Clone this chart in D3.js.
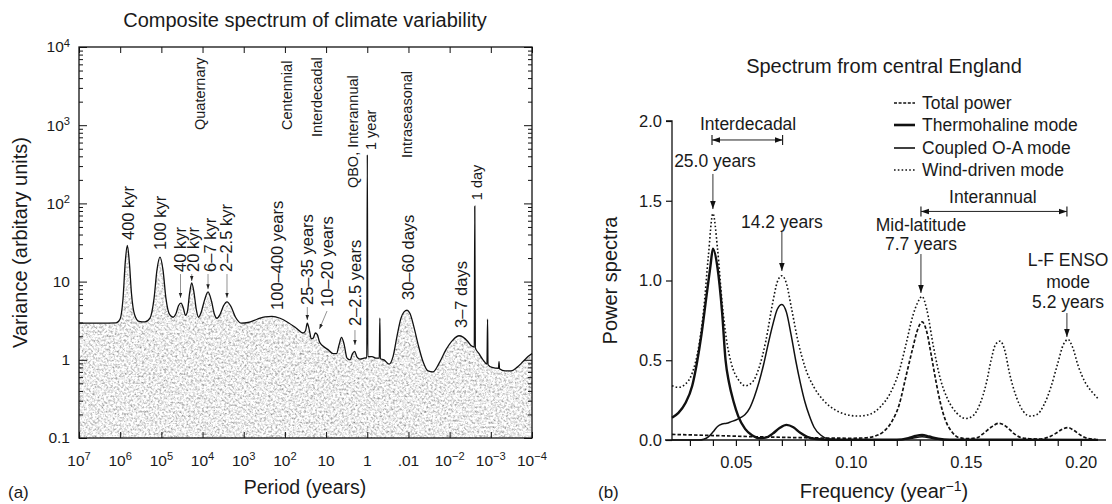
<!DOCTYPE html>
<html>
<head>
<meta charset="utf-8">
<script src="https://cdn.jsdelivr.net/npm/d3@7/dist/d3.min.js"></script>
<style>
html,body{margin:0;padding:0;background:#fff;}
svg{display:block;font-family:"Liberation Sans",Arial,Helvetica,sans-serif;}
</style>
</head>
<body>
<svg id="chart" width="1112" height="504"></svg>
<script>
// ================= Panel (a): composite spectrum =================
const spectrumPeriod = [
  1e7, 3.09e6, 1.26e6, 1.01e6, 8.55e5, 7.51e5, 6.71e5, 6.01e5, 5.31e5, 4.49e5,
  3.49e5, 2.50e5, 1.89e5, 1.51e5, 1.28e5, 1.08e5, 9.12e4, 7.71e4, 6.34e4, 5.21e4,
  4.41e4, 3.84e4, 3.33e4, 2.93e4, 2.59e4, 2.32e4, 2.07e4, 1.83e4, 1.61e4, 1.42e4,
  1.25e4, 1.09e4, 8.95e3, 7.36e3, 6.05e3, 5.13e3, 4.46e3, 3.77e3, 3.10e3, 2.55e3,
  2.04e3, 1.58e3, 1.16e3, 787, 476, 304, 206, 131, 84.1, 53.7,
  36.3, 31.6, 28.6, 25.5, 22.9, 20.4, 18.3, 16.3, 14.5, 11.9,
  8.97, 6.79, 5.58, 4.85, 4.22, 3.67, 3.10, 2.62, 2.28, 2.03,
  1.77, 1.50, 1.20, 1.026, 0.997, 0.970, 0.767, 0.614, 0.511, 0.495,
  0.482, 0.393, 0.296, 0.237, 0.190, 0.152, 0.128, 0.108, 0.0917, 0.0733,
  0.0570, 0.0444, 0.0335, 0.0254, 0.0181, 0.01225, 0.00828, 0.00592, 0.00473, 0.00358,
  0.00303, 0.00252, 0.00245, 0.00238, 0.00194, 0.00155, 0.00124, 0.00120, 0.00117, 0.000935,
  0.000650, 0.000632, 0.000615, 0.000452, 0.000323, 0.000231, 0.000165, 0.000125, 0.0001
];
const spectrumVariance = [
  2.95, 2.95, 2.97, 3.3, 6, 18, 29, 18, 7, 3.8,
  3.1, 3.05, 3.4, 6, 14, 20.5, 14, 6, 3.8, 3.5,
  3.9, 4.9, 5.3, 4.6, 3.7, 4.2, 7, 9.6, 7.2, 4.4,
  3.5, 4.0, 5.8, 7.4, 5.6, 3.8, 3.4, 3.8, 4.9, 5.5,
  4.8, 3.5, 2.95, 3.0, 3.3, 3.55, 3.6, 3.4, 3.0, 2.55,
  2.2, 2.35, 2.95, 2.4, 1.85, 1.9, 2.2, 2.1, 1.7, 1.5,
  1.35, 1.2, 1.2, 1.55, 1.93, 1.6, 1.05, 1.0, 1.2, 1.28,
  1.08, 1.02, 1.05, 1.06, 420, 1.1, 1.1, 1.05, 1.05, 3.4,
  1.03, 1.0, 0.88, 1.1, 2.0, 3.4, 4.1, 4.3, 3.9, 2.6,
  1.5, 0.95, 0.72, 0.7, 0.9, 1.35, 1.8, 2.03, 1.95, 1.7,
  1.52, 1.45, 92, 1.42, 1.2, 1.0, 0.88, 3.3, 0.87, 0.8,
  0.78, 0.95, 0.77, 0.72, 0.72, 0.8, 0.95, 1.1, 1.2
];
const periodTicks = [1e7, 1e6, 1e5, 1e4, 1e3, 1e2, 10, 1, 0.1, 0.01, 0.001, 0.0001];
const periodTickBase = ["10", "10", "10", "10", "10", "10", "10", "1", ".01", "10", "10", "10"];
const periodTickExp = ["7", "6", "5", "4", "3", "2", "", "", "", "\u22122", "\u22123", "\u22124"];
const varianceTicks = [0.1, 1, 10, 100, 1000, 10000];
const varianceTickBase = ["0.1", "1", "10", "10", "10", "10"];
const varianceTickExp = ["", "", "", "2", "3", "4"];

const regimeLabels = ["Quaternary", "Centennial", "Interdecadal", "QBO, Interannual", "1 year", "Intraseasonal", "1 day"];
const regimePeriod = [1.15e4, 89, 16.6, 2.22, 0.81, 0.108, 0.00216];
const regimeVariance = [869, 869, 706, 157, 482, 381, 110];

const peakLabels = ["400 kyr", "100 kyr", "40 kyr", "20 kyr", "6\u20137 kyr", "2\u20132.5 kyr", "100\u2013400 years", "25\u201335 years", "10\u201320 years", "2\u20132.5 years", "30\u201360 days", "3\u20137 days"];
const peakLabelPeriod = [6.28e5, 1.08e5, 3.43e4, 1.71e4, 6.6e3, 2.62e3, 156, 28.2, 9.5, 1.99, 0.1026, 0.0053];
const peakLabelVariance = [34, 25.4, 13.3, 13.3, 13.3, 13.3, 4.34, 5.02, 4.73, 2.7, 5.82, 2.55];

const pointerFromPeriod = [3.43e4, 1.83e4, 7.36e3, 2.55e3, 28.6, 9.5, 1.99];
const pointerFromVariance = [12.5, 12.5, 12.5, 12.5, 4.73, 4.2, 2.4];
const pointerToPeriod = [3.43e4, 1.83e4, 7.36e3, 2.55e3, 28.6, 14.5, 1.99];
const pointerToVariance = [6.2, 10.2, 8.0, 6.2, 3.23, 2.48, 1.55];

// ================= Panel (b): central England spectrum =================
const windFreq = [0.0222,0.025,0.028,0.031,0.034,0.036,0.038,0.040,0.042,0.044,0.046,0.048,0.051,0.054,0.057,0.060,0.063,0.066,0.068,0.070,0.072,0.074,0.077,0.080,0.084,0.088,0.093,0.098,0.103,0.108,0.113,0.117,0.121,0.124,0.127,0.129,0.131,0.133,0.136,0.139,0.142,0.146,0.150,0.153,0.156,0.159,0.161,0.163,0.165,0.167,0.169,0.172,0.175,0.178,0.181,0.184,0.187,0.190,0.1925,0.1945,0.1965,0.199,0.202,0.205,0.2075];
const windPower = [0.34,0.33,0.35,0.42,0.6,0.82,1.15,1.42,1.2,0.86,0.62,0.48,0.38,0.34,0.36,0.45,0.62,0.86,0.99,1.03,0.98,0.84,0.62,0.46,0.33,0.25,0.19,0.16,0.15,0.16,0.21,0.29,0.43,0.6,0.78,0.86,0.9,0.82,0.58,0.38,0.26,0.17,0.135,0.15,0.22,0.36,0.5,0.6,0.62,0.56,0.42,0.27,0.18,0.15,0.16,0.22,0.33,0.48,0.6,0.63,0.58,0.46,0.36,0.3,0.26];

const thermoFreq = [0.0222,0.025,0.028,0.031,0.033,0.035,0.037,0.039,0.040,0.042,0.044,0.0455,0.047,0.049,0.051,0.054,0.057,0.060,0.063,0.066,0.069,0.072,0.075,0.078,0.081,0.085,0.090,0.120,0.125,0.128,0.131,0.134,0.138,0.143,0.2075];
const thermoPower = [0.14,0.17,0.23,0.34,0.48,0.66,0.88,1.1,1.2,1.08,0.8,0.5,0.36,0.24,0.15,0.07,0.03,0.012,0.015,0.04,0.075,0.095,0.08,0.045,0.02,0.006,0.002,0.002,0.012,0.025,0.032,0.022,0.008,0.002,0.001];

const coupledFreq = [0.0222,0.034,0.036,0.038,0.040,0.042,0.044,0.046,0.048,0.050,0.052,0.054,0.056,0.058,0.060,0.062,0.064,0.066,0.068,0.070,0.072,0.074,0.076,0.078,0.080,0.082,0.084,0.087,0.090,0.095,0.120,0.126,0.131,0.136,0.142,0.2075];
const coupledPower = [0,0,0.005,0.02,0.05,0.085,0.1,0.105,0.115,0.125,0.14,0.16,0.2,0.27,0.36,0.47,0.6,0.72,0.82,0.85,0.8,0.66,0.5,0.36,0.24,0.15,0.08,0.03,0.008,0.001,0.001,0.01,0.02,0.008,0.001,0];

const totalFreq = [0.0222,0.030,0.040,0.050,0.060,0.070,0.080,0.090,0.100,0.106,0.110,0.114,0.118,0.121,0.124,0.127,0.129,0.131,0.133,0.135,0.137,0.139,0.141,0.144,0.147,0.151,0.155,0.158,0.161,0.1645,0.168,0.171,0.175,0.182,0.186,0.189,0.192,0.1945,0.197,0.200,0.203,0.2065];
const totalPower = [0.035,0.032,0.028,0.024,0.02,0.017,0.014,0.012,0.011,0.013,0.022,0.05,0.12,0.22,0.4,0.58,0.69,0.74,0.68,0.53,0.37,0.23,0.13,0.05,0.015,0.008,0.015,0.045,0.08,0.105,0.08,0.04,0.012,0.006,0.018,0.04,0.068,0.078,0.06,0.03,0.01,0.004];

const seriesNames = ["Total power", "Thermohaline mode", "Coupled O-A mode", "Wind-driven mode"];

const modeLabels = ["25.0 years", "14.2 years", "Mid-latitude", "7.7 years", "L-F ENSO", "mode", "5.2 years"];
const modeLabelFreq = [0.0409, 0.070, 0.1305, 0.1305, 0.1945, 0.1945, 0.1945];
const modeLabelPower = [1.712, 1.329, 1.31, 1.191, 1.091, 0.953, 0.828];
const modeArrowFreq = [0.040, 0.070, 0.1305, 0.194];
const modeArrowFrom = [1.668, 1.304, 1.166, 0.796];
const modeArrowTo = [1.448, 1.06, 0.922, 0.646];

const bandLabels = ["Interdecadal", "Interannual"];
const bandLabelFreq = [0.0553, 0.1618];
const bandLabelPower = [1.944, 1.486];
const bandStart = [0.0396, 0.1305];
const bandEnd = [0.0703, 0.194];
const bandPower = [1.881, 1.433];

// ================= drawing =================
const svg = d3.select("#chart");
const defs = svg.append("defs");
const FONT = '"Liberation Sans", Arial, Helvetica, sans-serif';
const INK = "#1a1a1a";

function marker(id, size, color) {
  defs.append("marker").attr("id", id).attr("viewBox", "0 0 10 10")
    .attr("refX", 10).attr("refY", 5).attr("markerWidth", size).attr("markerHeight", size)
    .attr("markerUnits", "userSpaceOnUse").attr("orient", "auto-start-reverse")
    .append("path").attr("d", "M0,1.5 L10,5 L0,8.5 Z").attr("fill", color);
}
marker("headBig", 8, "#111");
marker("headSmall", 5, "#222");

function supText(sel, base, exp) {
  sel.append("tspan").text(base);
  if (exp) sel.append("tspan").attr("dy", "-0.5em").attr("font-size", "0.72em").text(exp);
}

// ---------- panel (a) ----------
const A = {left: 79, right: 532, top: 47, bottom: 438};
const xA = d3.scaleLog().domain([1e7, 1e-4]).range([A.left, A.right]);
const yA = d3.scaleLog().domain([0.1, 1e4]).range([A.bottom, A.top]);
const spec = spectrumPeriod.map((p, i) => ({p: p, v: spectrumVariance[i]}));
const areaA = d3.area().x(d => xA(d.p)).y0(A.bottom).y1(d => yA(d.v)).curve(d3.curveMonotoneX);
const lineA = d3.line().x(d => xA(d.p)).y(d => yA(d.v)).curve(d3.curveMonotoneX);

const grain = defs.append("filter").attr("id", "grain")
  .attr("x", 0).attr("y", 0).attr("width", 1).attr("height", 1);
grain.append("feTurbulence").attr("type", "fractalNoise").attr("baseFrequency", 0.45)
  .attr("numOctaves", 3).attr("seed", 7).attr("result", "n");
grain.append("feColorMatrix").attr("in", "n").attr("type", "matrix")
  .attr("values", "1.5 0 0 0 0.09  1.5 0 0 0 0.09  1.5 0 0 0 0.09  0 0 0 0 1");
defs.append("clipPath").attr("id", "specClip").append("path").attr("d", areaA(spec));

const gA = svg.append("g");
gA.append("rect").attr("x", A.left).attr("y", A.top)
  .attr("width", A.right - A.left).attr("height", A.bottom - A.top)
  .attr("fill", "#c8c8c8").attr("filter", "url(#grain)").attr("clip-path", "url(#specClip)");
gA.append("path").attr("d", lineA(spec)).attr("fill", "none").attr("stroke", "#111").attr("stroke-width", 1.3);

// ticks (inward) via d3 axes
const minorTicks = [];
for (let e = -1; e < 4; e++) for (let k = 2; k <= 9; k++) minorTicks.push(k * Math.pow(10, e));
function styleTicks(g) { g.select(".domain").remove(); g.selectAll("line").attr("stroke", "#111").attr("stroke-width", 1); g.selectAll("text").remove(); }
gA.append("g").attr("transform", `translate(0,${A.top})`).call(d3.axisBottom(xA).tickValues(periodTicks).tickSize(6).tickFormat("")).call(styleTicks);
gA.append("g").attr("transform", `translate(0,${A.bottom})`).call(d3.axisTop(xA).tickValues(periodTicks).tickSize(6).tickFormat("")).call(styleTicks);
gA.append("g").attr("transform", `translate(${A.left},0)`).call(d3.axisRight(yA).tickValues(varianceTicks).tickSize(8).tickFormat("")).call(styleTicks);
gA.append("g").attr("transform", `translate(${A.left},0)`).call(d3.axisRight(yA).tickValues(minorTicks).tickSize(4).tickFormat("")).call(styleTicks);
gA.append("g").attr("transform", `translate(${A.right},0)`).call(d3.axisLeft(yA).tickValues(varianceTicks).tickSize(8).tickFormat("")).call(styleTicks);
gA.append("g").attr("transform", `translate(${A.right},0)`).call(d3.axisLeft(yA).tickValues(minorTicks).tickSize(4).tickFormat("")).call(styleTicks);
gA.append("rect").attr("x", A.left).attr("y", A.top).attr("width", A.right - A.left).attr("height", A.bottom - A.top)
  .attr("fill", "none").attr("stroke", "#111").attr("stroke-width", 1.3);

// tick labels
periodTicks.forEach((t, i) => {
  const tx = gA.append("text").attr("x", xA(t)).attr("y", 466).attr("text-anchor", "middle")
    .attr("font-size", 15.5).attr("fill", INK);
  supText(tx, periodTickBase[i], periodTickExp[i]);
});
varianceTicks.forEach((t, i) => {
  const tx = gA.append("text").attr("x", A.left - 9).attr("y", yA(t)).attr("dy", "0.35em").attr("text-anchor", "end")
    .attr("font-size", 15.5).attr("fill", INK);
  supText(tx, varianceTickBase[i], varianceTickExp[i]);
});

// titles
gA.append("text").attr("x", 305).attr("y", 27).attr("text-anchor", "middle").attr("font-size", 20).attr("fill", INK)
  .text("Composite spectrum of climate variability");
gA.append("text").attr("x", 305).attr("y", 494).attr("text-anchor", "middle").attr("font-size", 19.5).attr("fill", INK)
  .text("Period (years)");
gA.append("text").attr("transform", `translate(20,${(A.top + A.bottom) / 2}) rotate(-90)`).attr("dy", "0.35em")
  .attr("text-anchor", "middle").attr("font-size", 20).attr("fill", INK).text("Variance (arbitary units)");
gA.append("text").attr("x", 8).attr("y", 498).attr("font-size", 17).attr("fill", INK).text("(a)");

// vertical annotations
function vlabel(g, txt, px, py, size) {
  g.append("text").attr("transform", `translate(${px},${py}) rotate(-90)`).attr("dy", "0.35em")
    .attr("text-anchor", "start").attr("font-size", size).attr("fill", INK).text(txt);
}
regimeLabels.forEach((t, i) => vlabel(gA, t, xA(regimePeriod[i]), yA(regimeVariance[i]), 14.5));
peakLabels.forEach((t, i) => vlabel(gA, t, xA(peakLabelPeriod[i]), yA(peakLabelVariance[i]), 16.5));
pointerFromPeriod.forEach((p, i) => {
  gA.append("line").attr("x1", xA(p)).attr("y1", yA(pointerFromVariance[i]))
    .attr("x2", xA(pointerToPeriod[i])).attr("y2", yA(pointerToVariance[i]))
    .attr("stroke", "#777").attr("stroke-width", 0.8).attr("marker-end", "url(#headSmall)");
});

// ---------- panel (b) ----------
const B = {left: 672, right: 1106, top: 121, bottom: 440};
const xB = d3.scaleLinear().domain([0.0222, 0.211]).range([B.left, B.right]);
const yB = d3.scaleLinear().domain([0, 2]).range([B.bottom, B.top]);
const gB = svg.append("g");

const lineB = d3.line().x(d => xB(d[0])).y(d => yB(d[1])).curve(d3.curveMonotoneX);
const seriesDefs = [
  {f: totalFreq, p: totalPower, w: 1.7, dash: "3.5,2"},
  {f: thermoFreq, p: thermoPower, w: 2.4, dash: null},
  {f: coupledFreq, p: coupledPower, w: 1.5, dash: null},
  {f: windFreq, p: windPower, w: 1.6, dash: "1.6,2.2"}
];
seriesDefs.forEach(s => {
  gB.append("path").attr("d", lineB(s.f.map((f, i) => [f, s.p[i]])))
    .attr("fill", "none").attr("stroke", "#111").attr("stroke-width", s.w)
    .attr("stroke-dasharray", s.dash);
});

// axes
const yAxB = gB.append("g").attr("transform", `translate(${B.left},0)`)
  .call(d3.axisLeft(yB).tickValues([0, 0.5, 1, 1.5, 2]).tickSize(6).tickPadding(4).tickFormat(d3.format(".1f")));
yAxB.attr("font-family", FONT).attr("font-size", 16.5);
yAxB.selectAll("text").attr("fill", INK);
yAxB.select(".domain").attr("stroke", "#111").attr("stroke-width", 1.3).attr("d", `M-6,${B.top}H0V${B.bottom}`);
yAxB.selectAll("line").attr("stroke", "#111").attr("stroke-width", 1.2);

const freqTicks = d3.range(3, 21).map(k => k / 100);
const xAxB = gB.append("g").attr("transform", `translate(0,${B.bottom})`)
  .call(d3.axisBottom(xB).tickValues(freqTicks).tickSize(6).tickPadding(10)
    .tickFormat(d => [5, 10, 15, 20].includes(Math.round(d * 100)) ? d3.format(".2f")(d) : ""));
xAxB.attr("font-family", FONT).attr("font-size", 16.5);
xAxB.selectAll("text").attr("fill", INK);
xAxB.select(".domain").attr("stroke", "#111").attr("stroke-width", 1.3).attr("d", `M${B.left - 7},0H${B.right}`);
xAxB.selectAll("line").attr("stroke", "#111").attr("stroke-width", 1.2);

// titles
gB.append("text").attr("x", 884).attr("y", 73).attr("text-anchor", "middle").attr("font-size", 20).attr("fill", INK)
  .text("Spectrum from central England");
const fx = gB.append("text").attr("x", 884).attr("y", 498).attr("text-anchor", "middle").attr("font-size", 20).attr("fill", INK);
fx.append("tspan").text("Frequency (year");
fx.append("tspan").attr("dy", "-0.5em").attr("font-size", "0.7em").text("\u22121");
fx.append("tspan").attr("dy", "0.35em").text(")");
gB.append("text").attr("transform", `translate(610,${(B.top + B.bottom) / 2}) rotate(-90)`).attr("dy", "0.35em")
  .attr("text-anchor", "middle").attr("font-size", 20).attr("fill", INK).text("Power spectra");
gB.append("text").attr("x", 598).attr("y", 498).attr("font-size", 17).attr("fill", INK).text("(b)");

// legend
const legendY = [103, 125, 148, 170];
seriesNames.forEach((name, i) => {
  gB.append("line").attr("x1", 894).attr("x2", 915).attr("y1", legendY[i]).attr("y2", legendY[i])
    .attr("stroke", "#111").attr("stroke-width", i === 1 ? 2.6 : 1.6)
    .attr("stroke-dasharray", i === 0 ? "3,1.6" : (i === 3 ? "1.6,2.2" : null));
  gB.append("text").attr("x", 922).attr("y", legendY[i]).attr("dy", "0.35em").attr("font-size", 17.5)
    .attr("fill", INK).text(name);
});

// band annotations
bandLabels.forEach((t, i) => {
  gB.append("text").attr("x", xB(bandLabelFreq[i])).attr("y", yB(bandLabelPower[i])).attr("text-anchor", "middle")
    .attr("font-size", 17.5).attr("fill", INK).text(t);
  const y = yB(bandPower[i]), x1 = xB(bandStart[i]), x2 = xB(bandEnd[i]);
  gB.append("line").attr("x1", x1).attr("x2", x2).attr("y1", y).attr("y2", y)
    .attr("stroke", "#222").attr("stroke-width", 1)
    .attr("marker-start", "url(#headBig)").attr("marker-end", "url(#headBig)");
  [x1, x2].forEach(x => gB.append("line").attr("x1", x).attr("x2", x).attr("y1", y - 5).attr("y2", y + 5)
    .attr("stroke", "#222").attr("stroke-width", 1.2));
});

// mode annotations
modeLabels.forEach((t, i) => {
  gB.append("text").attr("x", xB(modeLabelFreq[i])).attr("y", yB(modeLabelPower[i])).attr("text-anchor", "middle")
    .attr("font-size", 17.5).attr("fill", INK).text(t);
});
modeArrowFreq.forEach((f, i) => {
  gB.append("line").attr("x1", xB(f)).attr("x2", xB(f)).attr("y1", yB(modeArrowFrom[i])).attr("y2", yB(modeArrowTo[i]))
    .attr("stroke", "#333").attr("stroke-width", 1).attr("marker-end", "url(#headBig)");
});
</script>
</body>
</html>
